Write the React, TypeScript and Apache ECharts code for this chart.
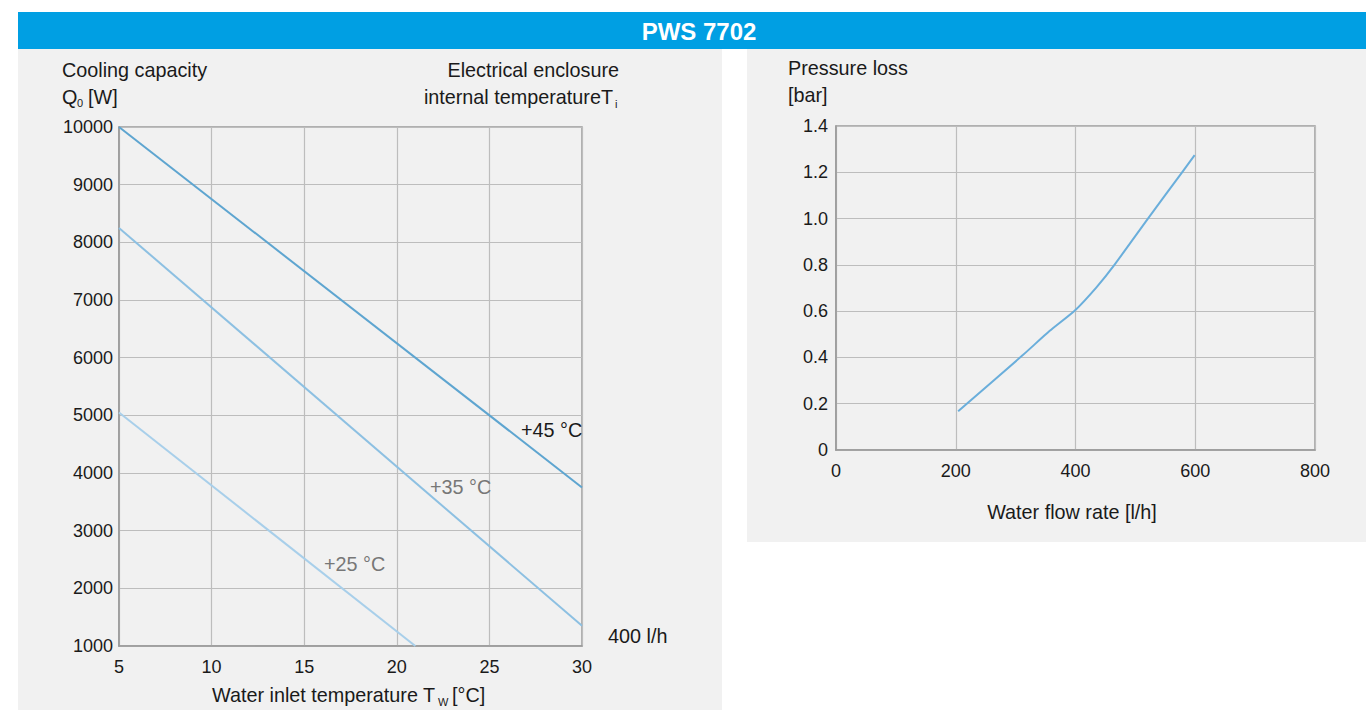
import React, { useEffect, useRef } from "react";
import * as echarts from "echarts";

const FONT = "'Liberation Sans', Arial, sans-serif";

// Left chart: cooling capacity vs water inlet temperature
const tempTicks = [5, 10, 15, 20, 25, 30];
const capacityTicks = [1000, 2000, 3000, 4000, 5000, 6000, 7000, 8000, 9000, 10000];
const line45 = [[5, 10000], [30, 3750]];
const line35 = [[5, 8250], [30, 1350]];
const line25 = [[5, 5050], [21, 1000]];

// Right chart: pressure loss vs water flow rate
const flowTicks = [0, 200, 400, 600, 800];
const pressureTicks = [0, 0.2, 0.4, 0.6, 0.8, 1.0, 1.2, 1.4];
const pressureCurve = [
  [204, 0.167],
  [312, 0.41],
  [357, 0.515],
  [399, 0.603],
  [435, 0.703],
  [465, 0.8],
  [521, 1.0],
  [578, 1.2],
  [599, 1.274],
];

const GRID_LINE = "#bdbdbd";
const FRAME = "#9a9a9a";
const TXT = "#1a1a1a";

export default function App() {
  const ref = useRef<HTMLDivElement>(null);
  useEffect(() => {
    if (!ref.current) return;
    const chart = echarts.init(ref.current, undefined, { renderer: "svg" });
    const t = (x: number, y: number, text: string, extra: any = {}) => ({
      type: "text",
      x,
      y,
      silent: true,
      style: {
        text,
        fill: TXT,
        font: `19.8px ${FONT}`,
        textVerticalAlign: "middle",
        ...extra,
      },
      z: 10,
    });
    const sub = (x: number, y: number, text: string, extra: any = {}) =>
      t(x, y, text, { font: `11px ${FONT}`, ...extra });

    const axisCommon = {
      axisLine: { show: true, lineStyle: { color: FRAME, width: 1.5 } },
      axisTick: { show: false },
      splitLine: { show: true, lineStyle: { color: GRID_LINE, width: 1.2 } },
      axisLabel: { color: TXT, fontSize: 18, fontFamily: FONT },
    };

    chart.setOption({
      animation: false,
      backgroundColor: "#ffffff",
      graphic: [
        { type: "rect", shape: { x: 18, y: 49, width: 704, height: 661 }, style: { fill: "#f1f1f1" }, z: -10, silent: true },
        { type: "rect", shape: { x: 747, y: 49, width: 619, height: 493 }, style: { fill: "#f1f1f1" }, z: -10, silent: true },
        { type: "rect", shape: { x: 18, y: 12, width: 1348, height: 37 }, style: { fill: "#009fe3" }, z: -5, silent: true },
        t(699, 31, "PWS 7702", { fill: "#ffffff", font: `bold 24px ${FONT}`, textAlign: "center" }),
        // Left titles
        t(62, 70, "Cooling capacity"),
        t(62, 97, "Q"),
        sub(77, 103, "0"),
        t(88, 97, "[W]"),
        t(619, 70, "Electrical enclosure", { textAlign: "right" }),
        t(613, 97, "internal temperatureT", { textAlign: "right" }),
        sub(615, 104, "i"),
        // Series labels
        t(521, 430, "+45 °C"),
        t(430, 487, "+35 °C", { fill: "#777777" }),
        t(324, 564, "+25 °C", { fill: "#777777" }),
        t(608, 636, "400 l/h"),
        // Left x name
        t(212, 695, "Water inlet temperature T"),
        sub(438, 702, "W"),
        t(452, 695, "[°C]"),
        // Right titles
        t(788, 68, "Pressure loss"),
        t(788, 95, "[bar]"),
        t(1072, 512, "Water flow rate [l/h]", { textAlign: "center" }),
      ],
      grid: [
        { left: 119, top: 127, width: 463, height: 519, show: true, borderColor: FRAME, borderWidth: 1.5, backgroundColor: "transparent" },
        { left: 836, top: 126, width: 479, height: 324, show: true, borderColor: FRAME, borderWidth: 1.5, backgroundColor: "transparent" },
      ],
      xAxis: [
        {
          ...axisCommon,
          type: "value",
          gridIndex: 0,
          min: tempTicks[0],
          max: tempTicks[tempTicks.length - 1],
          interval: 5,
          axisLabel: { ...axisCommon.axisLabel, margin: 12, formatter: (v: number) => String(v) },
        },
        {
          ...axisCommon,
          type: "value",
          gridIndex: 1,
          min: flowTicks[0],
          max: flowTicks[flowTicks.length - 1],
          interval: 200,
          axisLabel: { ...axisCommon.axisLabel, margin: 12, formatter: (v: number) => String(v) },
        },
      ],
      yAxis: [
        {
          ...axisCommon,
          type: "value",
          gridIndex: 0,
          min: capacityTicks[0],
          max: capacityTicks[capacityTicks.length - 1],
          interval: 1000,
          axisLabel: { ...axisCommon.axisLabel, margin: 6, formatter: (v: number) => String(v) },
        },
        {
          ...axisCommon,
          type: "value",
          gridIndex: 1,
          min: pressureTicks[0],
          max: pressureTicks[pressureTicks.length - 1],
          interval: 0.2,
          axisLabel: {
            ...axisCommon.axisLabel,
            margin: 8,
            formatter: (v: number) => (v === 0 ? "0" : v.toFixed(1)),
          },
        },
      ],
      series: [
        { type: "line", xAxisIndex: 0, yAxisIndex: 0, data: line45, symbol: "none", lineStyle: { color: "#5ea5d0", width: 2 } },
        { type: "line", xAxisIndex: 0, yAxisIndex: 0, data: line35, symbol: "none", lineStyle: { color: "#8dc0e2", width: 2 } },
        { type: "line", xAxisIndex: 0, yAxisIndex: 0, data: line25, symbol: "none", lineStyle: { color: "#a8cfea", width: 2 } },
        { type: "line", xAxisIndex: 1, yAxisIndex: 1, data: pressureCurve, symbol: "none", smooth: 0.2, lineStyle: { color: "#6aaedb", width: 2 } },
      ],
    });
    return () => chart.dispose();
  }, []);
  return (
    <div
      ref={ref}
      style={{ position: "fixed", left: 0, top: 0, width: 1366, height: 710 }}
    />
  );
}
